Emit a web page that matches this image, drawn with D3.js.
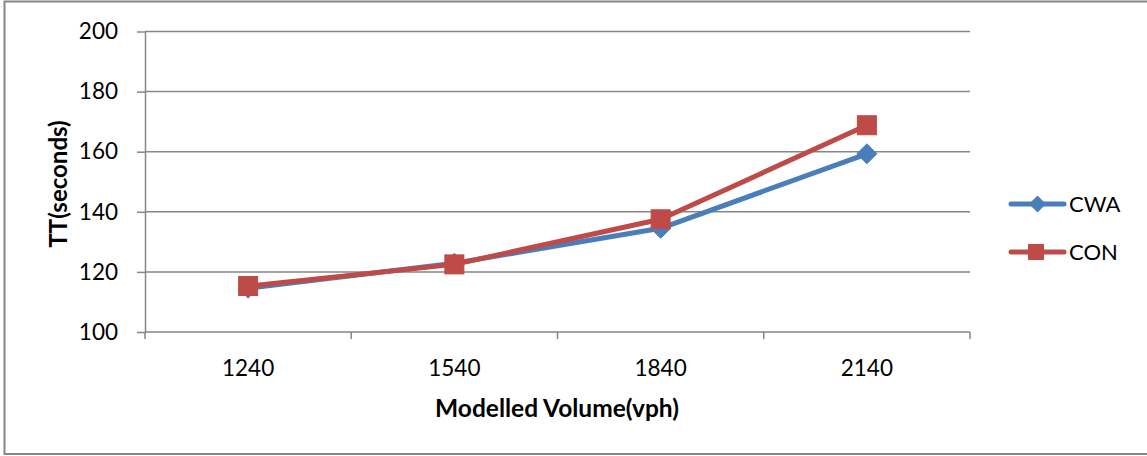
<!DOCTYPE html>
<html>
<head>
<meta charset="utf-8">
<script src="https://cdn.jsdelivr.net/npm/d3@7/dist/d3.min.js"></script>
<style>
  html, body { margin: 0; padding: 0; background: #fff; }
  svg { display: block; font-family: Lato, "Open Sans", sans-serif; }
</style>
</head>
<body>
<svg id="chart" width="1147" height="456"></svg>
<script>
// Travel time by modelled volume
const categories = ["1240", "1540", "1840", "2140"];
const cwaValues = [114.6, 122.9, 134.5, 159.3];
const conValues = [115.3, 122.5, 137.5, 168.8];
const yTicks = [100, 120, 140, 160, 180, 200];
const seriesNames = ["CWA", "CON"];

const svg = d3.select("#chart");
const gridColor = "#868686";
const blue = "#4A7EBB";
const red = "#BE4B48";
const labelSize = 22.5;

// outer chart frame
svg.append("rect")
  .attr("x", 4.5).attr("y", 1.5)
  .attr("width", 1160).attr("height", 452.5)
  .attr("fill", "none").attr("stroke", gridColor).attr("stroke-width", 2);

const plotLeft = 145, plotRight = 970, plotTop = 31.5, plotBottom = 332;

const x = d3.scaleBand().domain(categories).range([plotLeft, plotRight]).padding(0);
const y = d3.scaleLinear().domain([100, 200]).range([plotBottom, plotTop]);
const cx = c => x(c) + x.bandwidth() / 2;

// horizontal gridlines
svg.append("g").selectAll("line").data(yTicks.slice(1)).join("line")
  .attr("x1", plotLeft).attr("x2", plotRight)
  .attr("y1", d => y(d)).attr("y2", d => y(d))
  .attr("stroke", gridColor).attr("stroke-width", 1.5);

// y axis
const yAxis = svg.append("g").attr("transform", `translate(${plotLeft},0)`)
  .call(d3.axisLeft(y).tickValues(yTicks).tickSizeInner(8).tickSizeOuter(0).tickPadding(19));
yAxis.select(".domain").attr("stroke", gridColor).attr("stroke-width", 1.5);
yAxis.selectAll(".tick line").attr("stroke", gridColor).attr("stroke-width", 1.5);
yAxis.selectAll(".tick text").attr("font-size", labelSize).attr("fill", "#000")
  .attr("font-family", "Lato, sans-serif");

// x axis: ticks sit on the category boundaries
const boundaries = categories.map(c => x(c)).concat([plotRight]);
const xAxisG = svg.append("g").attr("transform", `translate(0,${plotBottom})`);
xAxisG.append("line").attr("x1", plotLeft).attr("x2", plotRight)
  .attr("stroke", gridColor).attr("stroke-width", 1.5);
xAxisG.selectAll("line.tk").data(boundaries).join("line").attr("class", "tk")
  .attr("x1", d => d).attr("x2", d => d).attr("y1", 0).attr("y2", 7)
  .attr("stroke", gridColor).attr("stroke-width", 1.5);
xAxisG.selectAll("text").data(categories).join("text")
  .attr("x", d => cx(d)).attr("y", 44)
  .attr("text-anchor", "middle").attr("font-size", labelSize).attr("fill", "#000")
  .text(d => d);

// axis titles
svg.append("text").attr("x", 557).attr("y", 417)
  .attr("text-anchor", "middle").attr("font-size", 24.5).attr("font-weight", "bold")
  .text("Modelled Volume(vph)");
svg.append("text").attr("transform", "translate(67,184) rotate(-90)")
  .attr("text-anchor", "middle").attr("font-size", 24).attr("font-weight", "bold")
  .text("TT(seconds)");

const line = d3.line().x((d, i) => cx(categories[i])).y(d => y(d));

function drawDiamond(g, px, py, r) {
  g.append("path")
    .attr("d", `M${px},${py - r}L${px + r},${py}L${px},${py + r}L${px - r},${py}Z`)
    .attr("fill", blue).attr("stroke", blue).attr("stroke-width", 1);
}
function drawSquare(g, px, py, h) {
  g.append("rect").attr("x", px - h).attr("y", py - h)
    .attr("width", 2 * h).attr("height", 2 * h)
    .attr("fill", red).attr("stroke", red).attr("stroke-width", 1);
}

// CWA series
const gCwa = svg.append("g");
gCwa.append("path").datum(cwaValues).attr("d", line)
  .attr("fill", "none").attr("stroke", blue).attr("stroke-width", 5)
  .attr("stroke-linejoin", "round").attr("stroke-linecap", "round");
cwaValues.forEach((v, i) => drawDiamond(gCwa, cx(categories[i]), y(v), 10));

// CON series
const gCon = svg.append("g");
gCon.append("path").datum(conValues).attr("d", line)
  .attr("fill", "none").attr("stroke", red).attr("stroke-width", 5)
  .attr("stroke-linejoin", "round").attr("stroke-linecap", "round");
conValues.forEach((v, i) => drawSquare(gCon, cx(categories[i]), y(v), 9.5));

// legend
const legendY = [204, 252];
seriesNames.forEach((name, i) => {
  const g = svg.append("g");
  const col = i === 0 ? blue : red;
  g.append("line").attr("x1", 1011).attr("x2", 1064)
    .attr("y1", legendY[i]).attr("y2", legendY[i])
    .attr("stroke", col).attr("stroke-width", 5).attr("stroke-linecap", "round");
  if (i === 0) drawDiamond(g, 1037.5, legendY[i], 8);
  else drawSquare(g, 1036, legendY[i], 7.5);
  g.append("text").attr("x", 1069).attr("y", legendY[i] + 8)
    .attr("font-size", 22).attr("fill", "#000").text(name);
});
</script>
</body>
</html>
